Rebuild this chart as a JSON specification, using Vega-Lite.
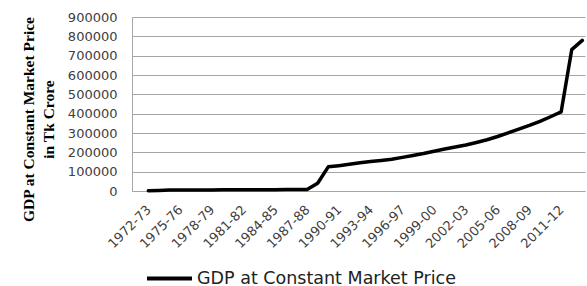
{
  "$schema": "https://vega.github.io/schema/vega-lite/v6.json",
  "autosize": {"type": "none"},
  "padding": {"left": 132, "top": 17, "right": 2, "bottom": 95},
  "width": 453,
  "height": 174,
  "background": "white",
  "config": {"view": {"stroke": null}},
  "data": {
    "values": [
      {"period": "1972-73", "gdp": 1000, "series": "GDP at Constant Market Price"},
      {"period": "1973-74", "gdp": 3000, "series": "GDP at Constant Market Price"},
      {"period": "1974-75", "gdp": 5000, "series": "GDP at Constant Market Price"},
      {"period": "1975-76", "gdp": 5200, "series": "GDP at Constant Market Price"},
      {"period": "1976-77", "gdp": 5400, "series": "GDP at Constant Market Price"},
      {"period": "1977-78", "gdp": 5600, "series": "GDP at Constant Market Price"},
      {"period": "1978-79", "gdp": 5800, "series": "GDP at Constant Market Price"},
      {"period": "1979-80", "gdp": 6000, "series": "GDP at Constant Market Price"},
      {"period": "1980-81", "gdp": 6200, "series": "GDP at Constant Market Price"},
      {"period": "1981-82", "gdp": 6400, "series": "GDP at Constant Market Price"},
      {"period": "1982-83", "gdp": 6600, "series": "GDP at Constant Market Price"},
      {"period": "1983-84", "gdp": 6800, "series": "GDP at Constant Market Price"},
      {"period": "1984-85", "gdp": 7000, "series": "GDP at Constant Market Price"},
      {"period": "1985-86", "gdp": 7200, "series": "GDP at Constant Market Price"},
      {"period": "1986-87", "gdp": 7400, "series": "GDP at Constant Market Price"},
      {"period": "1987-88", "gdp": 7600, "series": "GDP at Constant Market Price"},
      {"period": "1988-89", "gdp": 40000, "series": "GDP at Constant Market Price"},
      {"period": "1989-90", "gdp": 125000, "series": "GDP at Constant Market Price"},
      {"period": "1990-91", "gdp": 131000, "series": "GDP at Constant Market Price"},
      {"period": "1991-92", "gdp": 138000, "series": "GDP at Constant Market Price"},
      {"period": "1992-93", "gdp": 146000, "series": "GDP at Constant Market Price"},
      {"period": "1993-94", "gdp": 152000, "series": "GDP at Constant Market Price"},
      {"period": "1994-95", "gdp": 158000, "series": "GDP at Constant Market Price"},
      {"period": "1995-96", "gdp": 164000, "series": "GDP at Constant Market Price"},
      {"period": "1996-97", "gdp": 174000, "series": "GDP at Constant Market Price"},
      {"period": "1997-98", "gdp": 184000, "series": "GDP at Constant Market Price"},
      {"period": "1998-99", "gdp": 194000, "series": "GDP at Constant Market Price"},
      {"period": "1999-00", "gdp": 206000, "series": "GDP at Constant Market Price"},
      {"period": "2000-01", "gdp": 217000, "series": "GDP at Constant Market Price"},
      {"period": "2001-02", "gdp": 228000, "series": "GDP at Constant Market Price"},
      {"period": "2002-03", "gdp": 238000, "series": "GDP at Constant Market Price"},
      {"period": "2003-04", "gdp": 251000, "series": "GDP at Constant Market Price"},
      {"period": "2004-05", "gdp": 265000, "series": "GDP at Constant Market Price"},
      {"period": "2005-06", "gdp": 282000, "series": "GDP at Constant Market Price"},
      {"period": "2006-07", "gdp": 301000, "series": "GDP at Constant Market Price"},
      {"period": "2007-08", "gdp": 320000, "series": "GDP at Constant Market Price"},
      {"period": "2008-09", "gdp": 339000, "series": "GDP at Constant Market Price"},
      {"period": "2009-10", "gdp": 360000, "series": "GDP at Constant Market Price"},
      {"period": "2010-11", "gdp": 384000, "series": "GDP at Constant Market Price"},
      {"period": "2011-12", "gdp": 409000, "series": "GDP at Constant Market Price"},
      {"period": "2012-13", "gdp": 731000, "series": "GDP at Constant Market Price"},
      {"period": "2013-14", "gdp": 779000, "series": "GDP at Constant Market Price"}
    ]
  },
  "mark": {"type": "line", "strokeWidth": 3.5, "strokeJoin": "round", "strokeCap": "round"},
  "encoding": {
    "x": {
      "field": "period",
      "type": "ordinal",
      "sort": null,
      "scale": {"type": "point", "padding": 0.8975, "align": 0.858},
      "axis": {
        "title": null,
        "values": ["1972-73", "1975-76", "1978-79", "1981-82", "1984-85", "1987-88", "1990-91", "1993-94", "1996-97", "1999-00", "2002-03", "2005-06", "2008-09", "2011-12"],
        "labelAngle": -45,
        "labelFont": "DejaVu Sans",
        "labelFontSize": 13,
        "labelColor": "#404040",
        "labelPadding": 12,
        "labelOffset": -4,
        "ticks": false,
        "grid": false,
        "domainColor": "#a6a6a6",
        "domainWidth": 1
      }
    },
    "y": {
      "field": "gdp",
      "type": "quantitative",
      "scale": {"domain": [0, 900000], "nice": false},
      "axis": {
        "values": [0, 100000, 200000, 300000, 400000, 500000, 600000, 700000, 800000, 900000],
        "format": "d",
        "title": ["GDP at Constant Market Price", "in Tk Crore"],
        "titleFont": "Liberation Serif",
        "titleFontWeight": "bold",
        "titleFontSize": 15.5,
        "titleColor": "black",
        "titleLineHeight": 20,
        "titleAngle": 270,
        "titleBaseline": "bottom",
        "titleAlign": "center",
        "titleX": -96,
        "titleY": 102,
        "labelFont": "DejaVu Sans",
        "labelFontSize": 13,
        "labelColor": "#404040",
        "labelPadding": 15,
        "ticks": false,
        "grid": true,
        "gridColor": "#a6a6a6",
        "gridWidth": 1,
        "domainColor": "#a6a6a6",
        "domainWidth": 1
      }
    },
    "color": {
      "field": "series",
      "type": "nominal",
      "scale": {"range": ["black"]},
      "legend": {
        "title": null,
        "orient": "none",
        "legendX": 13,
        "legendY": 237,
        "symbolType": "stroke",
        "symbolSize": 2025,
        "symbolStrokeWidth": 4,
        "labelFont": "DejaVu Sans",
        "labelFontSize": 17.5,
        "labelColor": "#222222",
        "labelOffset": 3,
        "labelLimit": 400,
        "padding": 0
      }
    }
  }
}
